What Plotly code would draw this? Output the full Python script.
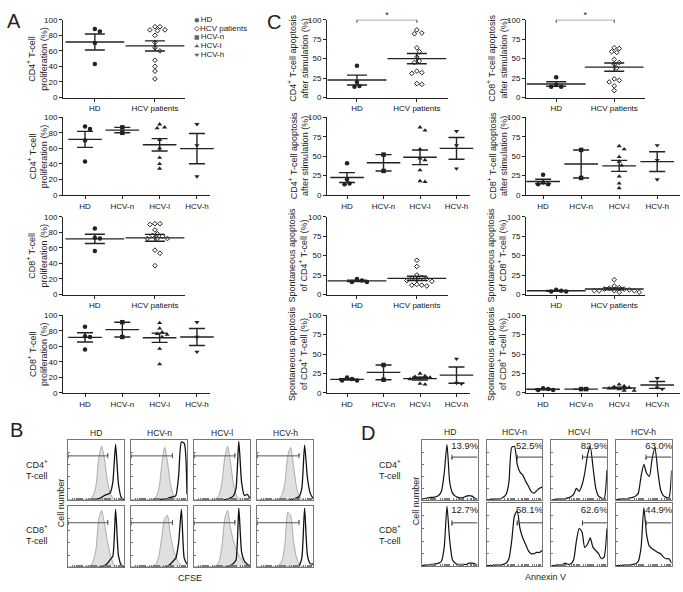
import numpy as np
import plotly.graph_objects as go

W, H = 683, 592
FONT = "Liberation Sans, Arial, sans-serif"
INK = "#222"

# ---------------- dot plots (A, C): values in %, one list per group ----------------
names2 = ["HD", "HCV patients"]
names4 = ["HD", "HCV-n", "HCV-l", "HCV-h"]

cd4_prolif_hd = [85, 88, 70, 43]
cd4_prolif_n = [87, 80]
cd4_prolif_l = [91, 87, 86, 71, 60, 48, 40, 34]
cd4_prolif_h = [91, 64, 24]

cd8_prolif_hd = [85, 73, 72, 56]
cd8_prolif_n = [91, 72]
cd8_prolif_l = [90, 83, 78, 76, 75, 72, 57, 37]
cd8_prolif_h = [91, 72, 53]

cd4_stim_hd = [41, 20, 15, 14]
cd4_stim_n = [52, 31]
cd4_stim_l = [87, 83, 59, 47, 45, 32, 18, 17]
cd4_stim_h = [82, 64, 34]

cd8_stim_hd = [26, 16, 14, 14]
cd8_stim_n = [58, 22]
cd8_stim_l = [63, 59, 49, 43, 38, 24, 15, 9]
cd8_stim_h = [64, 45, 20]

cd4_spont_hd = [20, 18, 16, 16]
cd4_spont_n = [36, 17]
cd4_spont_l = [25, 22, 21, 20, 19, 18, 12, 11]
cd4_spont_h = [44, 13, 12]

cd8_spont_hd = [6, 5, 4, 4]
cd8_spont_n = [5, 5]
cd8_spont_l = [11, 9, 8, 7, 6, 5, 3, 3]
cd8_spont_h = [19, 7, 5]

legend_names = ["HD", "HCV patients", "HCV-n", "HCV-l", "HCV-h"]

# ---------------- flow histograms (B: CFSE, D: Annexin V) ----------------
channel = list(range(0, 101, 5))
flow_cols = ["HD", "HCV-n", "HCV-l", "HCV-h"]

cfse_cd4_fill = [
    [0, 0, 0, 0, 0, 0, 0, 1, 3, 8, 25, 70, 90, 70, 35, 12, 4, 1, 0, 0, 0],
    [0, 0, 0, 0, 0, 0, 0, 0, 2, 6, 20, 60, 88, 65, 30, 10, 3, 1, 0, 0, 0],
    [0, 0, 0, 0, 0, 0, 0, 1, 3, 10, 30, 72, 90, 65, 30, 10, 3, 1, 0, 0, 0],
    [0, 0, 0, 0, 0, 0, 0, 1, 3, 10, 30, 75, 88, 60, 25, 8, 2, 0, 0, 0, 0],
]
cfse_cd4_line = [
    [0, 0, 0, 0, 0, 0, 0, 0, 0, 1, 2, 3, 5, 8, 10, 12, 30, 93, 28, 5, 1],
    [0, 0, 0, 0, 0, 0, 0, 0, 0, 0, 1, 2, 2, 3, 5, 6, 8, 40, 97, 95, 10],
    [0, 0, 0, 0, 0, 0, 0, 0, 0, 0, 0, 1, 2, 4, 7, 20, 98, 30, 8, 10, 3],
    [0, 0, 0, 0, 0, 0, 0, 0, 0, 0, 0, 0, 1, 2, 4, 6, 20, 92, 38, 12, 3],
]
cfse_cd8_fill = [
    [0, 0, 0, 0, 0, 0, 0, 1, 3, 10, 30, 80, 93, 72, 45, 22, 8, 2, 0, 0, 0],
    [0, 0, 0, 0, 0, 0, 0, 0, 2, 6, 20, 50, 80, 85, 55, 32, 18, 8, 3, 1, 0],
    [0, 0, 0, 0, 0, 0, 0, 1, 3, 10, 35, 80, 93, 65, 45, 30, 20, 12, 5, 2, 0],
    [0, 0, 0, 0, 0, 0, 0, 1, 4, 12, 40, 90, 85, 45, 18, 6, 2, 0, 0, 0, 0],
]
cfse_cd8_line = [
    [0, 0, 0, 0, 0, 0, 0, 0, 0, 0, 0, 0, 1, 3, 6, 12, 18, 95, 20, 4, 1],
    [0, 0, 0, 0, 0, 0, 0, 0, 0, 0, 0, 0, 0, 2, 5, 10, 15, 40, 95, 15, 5],
    [0, 0, 0, 0, 0, 0, 0, 0, 0, 0, 0, 0, 1, 3, 6, 12, 97, 25, 10, 5, 2],
    [0, 0, 0, 0, 0, 0, 0, 0, 0, 0, 0, 0, 0, 0, 1, 3, 15, 97, 20, 6, 5],
]
cfse_gate_end = [71, 74, 73, 75]
cfse_gate_y = [74, 73]

anx_cd4 = [
    [2, 3, 4, 5, 5, 6, 8, 15, 45, 93, 30, 12, 7, 5, 4, 5, 7, 8, 7, 4, 2],
    [1, 1, 2, 2, 3, 3, 5, 10, 30, 88, 90, 60, 47, 42, 32, 24, 15, 12, 16, 20, 22],
    [1, 1, 2, 2, 3, 3, 4, 6, 10, 20, 15, 25, 45, 75, 90, 55, 20, 7, 4, 3, 50],
    [1, 2, 2, 3, 3, 4, 5, 7, 12, 40, 60, 45, 40, 70, 88, 50, 18, 8, 5, 4, 50],
]
anx_cd8 = [
    [1, 2, 2, 3, 3, 4, 5, 8, 30, 95, 40, 10, 5, 3, 3, 3, 3, 5, 5, 4, 2],
    [1, 1, 1, 2, 2, 2, 3, 5, 12, 40, 80, 88, 60, 45, 35, 25, 20, 20, 22, 22, 25],
    [1, 1, 2, 2, 3, 5, 3, 4, 10, 40, 60, 55, 30, 35, 45, 30, 25, 20, 12, 15, 60],
    [1, 1, 1, 2, 2, 2, 3, 4, 8, 30, 93, 50, 32, 28, 25, 22, 20, 15, 12, 12, 5],
]
anx_pct_cd4 = ["13.9%", "52.5%", "82.9%", "63.0%"]
anx_pct_cd8 = ["12.7%", "58.1%", "62.6%", "44.9%"]
anx_gate_start = [54, 55, 56, 54]
anx_gate_y = [72, 69]

fig = go.Figure()
n_axes = [0]


def add_axes(x0, x1, ytop, ybot, xa, ya):
    n_axes[0] += 1
    s = "" if n_axes[0] == 1 else str(n_axes[0])
    fig.update_layout({
        "xaxis" + s: dict(domain=[x0 / W, x1 / W], anchor="y" + s, **xa),
        "yaxis" + s: dict(domain=[1 - ybot / H, 1 - ytop / H], anchor="x" + s, **ya),
    })
    return "x" + s, "y" + s


def label(x, y, text, size=9, angle=0, xanchor="center"):
    fig.add_annotation(x=x / W, y=1 - y / H, xref="paper", yref="paper", text=text,
                       showarrow=False, textangle=angle, xanchor=xanchor, yanchor="middle",
                       font=dict(size=size, color=INK))


def swarm(vals, px_y, px_x, d):
    # simple column-scatter layout so that markers do not overlap
    placed, out = [], [0.0] * len(vals)
    cands = [0] + [s * j * 0.5 for j in range(1, 14) for s in (1, -1)]
    for i in sorted(range(len(vals)), key=lambda i: -vals[i]):
        y = vals[i] * px_y
        xo = 0
        for c in cands:
            xo = c * d
            if all((xo - a) ** 2 + (y - b) ** 2 >= d * d * 0.8 for a, b in placed):
                break
        placed.append((xo, y))
        out[i] = xo / px_x
    return out


ROWS = [(16, 95), (115, 194), (216, 295), (316, 395)]
SYM = {"HD": "circle", "HCV patients": "diamond-open", "HCV-n": "square",
       "HCV-l": "triangle-up", "HCV-h": "triangle-down"}


def dot_panel(x0, x1, xr, row, names, groups, yt, title, title_x, bracket=False):
    ytop, ybot = ROWS[row]
    xa = dict(range=xr, tickvals=list(range(len(names))), ticktext=names, showline=True,
              linecolor=INK, linewidth=1, ticks="outside", ticklen=3, tickcolor=INK,
              showgrid=False, zeroline=False, tickfont=dict(size=8, color="#111"))
    ya = dict(range=[0, 100], tickvals=yt, showline=True, linecolor=INK, linewidth=1,
              ticks="outside", ticklen=3, tickcolor=INK, showgrid=False, zeroline=False,
              tickfont=dict(size=8, color="#111"))
    xs, ys = add_axes(x0, x1, ytop, ybot, xa, ya)
    px_y = (ybot - ytop) / 100
    px_x = (x1 - x0) / (xr[1] - xr[0])
    wide = len(names) == 2
    for k, (nm, vals) in enumerate(zip(names, groups)):
        sym = SYM[nm]
        is_open = sym.endswith("open")
        offs = swarm(vals, px_y, px_x, 5)
        fig.add_trace(go.Scatter(
            x=[k + o for o in offs], y=vals, mode="markers", xaxis=xs, yaxis=ys,
            cliponaxis=False, hoverinfo="skip",
            marker=dict(symbol=sym, size=3.6 if is_open else 4.5, color=INK,
                        line=dict(color=INK, width=1 if is_open else 0))))
        m = float(np.mean(vals))
        se = float(np.std(vals, ddof=1) / np.sqrt(len(vals)))
        fig.add_trace(go.Scatter(
            x=[k], y=[m], mode="markers", xaxis=xs, yaxis=ys, cliponaxis=False,
            marker=dict(symbol="line-ew", size=42 if wide else 24,
                        line=dict(color=INK, width=1.4)),
            error_y=dict(type="data", symmetric=False, array=[se], arrayminus=[se],
                         width=10 if wide else 8, thickness=1.4, color=INK)))
    if bracket:
        fig.add_trace(go.Scatter(x=[0, 0, 1, 1], y=[96, 100, 100, 96], mode="lines",
                                 xaxis=xs, yaxis=ys, cliponaxis=False,
                                 line=dict(color="#444", width=1)))
        fig.add_trace(go.Scatter(x=[0.5], y=[100], mode="text", text=["*"],
                                 textposition="top center", xaxis=xs, yaxis=ys,
                                 cliponaxis=False, textfont=dict(size=9, color=INK)))
    label(title_x, (ytop + ybot) / 2, title, size=9, angle=-90)


t20 = [0, 20, 40, 60, 80, 100]
t25 = [0, 25, 50, 75, 100]

# panel A
dot_panel(63, 185, [-0.53, 1.5], 0, names2,
          [cd4_prolif_hd, cd4_prolif_n + cd4_prolif_l + cd4_prolif_h], t20,
          "CD4<sup>+</sup> T-cell<br>proliferation (%)", 37)
dot_panel(63, 210, [-0.59, 3.35], 1, names4,
          [cd4_prolif_hd, cd4_prolif_n, cd4_prolif_l, cd4_prolif_h], t20,
          "CD4<sup>+</sup> T-cell<br>proliferation (%)", 37)
dot_panel(63, 185, [-0.53, 1.5], 2, names2,
          [cd8_prolif_hd, cd8_prolif_n + cd8_prolif_l + cd8_prolif_h], t20,
          "CD8<sup>+</sup> T-cell<br>proliferation (%)", 37)
dot_panel(63, 210, [-0.59, 3.35], 3, names4,
          [cd8_prolif_hd, cd8_prolif_n, cd8_prolif_l, cd8_prolif_h], t20,
          "CD8<sup>+</sup> T-cell<br>proliferation (%)", 37)

# panel C, CD4 column
dot_panel(327, 448, [-0.5, 1.52], 0, names2,
          [cd4_stim_hd, cd4_stim_n + cd4_stim_l + cd4_stim_h], t25,
          "CD4<sup>+</sup> T-cell apoptosis<br>after stimulation (%)", 298, bracket=True)
dot_panel(327, 470, [-0.55, 3.37], 1, names4,
          [cd4_stim_hd, cd4_stim_n, cd4_stim_l, cd4_stim_h], t25,
          "CD4<sup>+</sup> T-cell apoptosis<br>after stimulation (%)", 298)
dot_panel(327, 448, [-0.5, 1.52], 2, names2,
          [cd4_spont_hd, cd4_spont_n + cd4_spont_l + cd4_spont_h], t25,
          "Spontaneous apoptosis<br>of CD4<sup>+</sup> T-cell (%)", 298)
dot_panel(327, 470, [-0.55, 3.37], 3, names4,
          [cd4_spont_hd, cd4_spont_n, cd4_spont_l, cd4_spont_h], t25,
          "Spontaneous apoptosis<br>of CD4<sup>+</sup> T-cell (%)", 298)

# panel C, CD8 column
dot_panel(526, 645, [-0.52, 1.53], 0, names2,
          [cd8_stim_hd, cd8_stim_n + cd8_stim_l + cd8_stim_h], t25,
          "CD8<sup>+</sup> T-cell apoptosis<br>after stimulation (%)", 497, bracket=True)
dot_panel(526, 680, [-0.45, 3.6], 1, names4,
          [cd8_stim_hd, cd8_stim_n, cd8_stim_l, cd8_stim_h], t25,
          "CD8<sup>+</sup> T-cell apoptosis<br>after stimulation (%)", 497)
dot_panel(526, 645, [-0.52, 1.53], 2, names2,
          [cd8_spont_hd, cd8_spont_n + cd8_spont_l + cd8_spont_h], t25,
          "Spontaneous apoptosis<br>of CD8<sup>+</sup> T-cell (%)", 497)
dot_panel(526, 680, [-0.45, 3.6], 3, names4,
          [cd8_spont_hd, cd8_spont_n, cd8_spont_l, cd8_spont_h], t25,
          "Spontaneous apoptosis<br>of CD8<sup>+</sup> T-cell (%)", 497)

# legend of panel A (tight spacing, drawn on its own hidden axes)
lx, ly = add_axes(193, 270, 12, 56, dict(range=[-0.5, 9.5], visible=False),
                  dict(range=[4.5, -0.5], visible=False))
fig.add_trace(go.Scatter(
    x=[0] * len(legend_names), y=list(range(len(legend_names))), mode="markers+text",
    text=legend_names, textposition="middle right", xaxis=lx, yaxis=ly, cliponaxis=False,
    textfont=dict(size=8, color=INK),
    marker=dict(symbol=[SYM[n] for n in legend_names], size=[4.5, 3.6, 4.5, 4.5, 4.5],
                color=INK, line=dict(color=INK, width=[0, 1, 0, 0, 0]))))

# ---------------- histogram panels ----------------
dec = [0, 25, 50, 75]
minor = sorted({d + 25 * np.log10(k) for d in dec for k in range(1, 10)})
hx = dict(range=[0, 100], showline=True, mirror=True, linecolor="#777", linewidth=1,
          ticks="inside", ticklen=2, tickcolor="#777", tickvals=minor,
          showticklabels=False, showgrid=False, zeroline=False)
hy = dict(range=[0, 100], showline=True, mirror=True, linecolor="#777", linewidth=1,
          ticks="inside", ticklen=2, tickcolor="#777", tickvals=[20, 40, 60, 80],
          showticklabels=False, showgrid=False, zeroline=False)

B_X0, B_W, B_STEP = 68, 56, 63
B_ROWS = [(443, 504), (510, 572)]
for r, (fills, lines) in enumerate([(cfse_cd4_fill, cfse_cd4_line), (cfse_cd8_fill, cfse_cd8_line)]):
    for c in range(4):
        x0 = B_X0 + c * B_STEP
        xs, ys = add_axes(x0, x0 + B_W, B_ROWS[r][0], B_ROWS[r][1], hx, hy)
        fig.add_trace(go.Scatter(x=channel, y=fills[c], mode="lines", fill="tozeroy",
                                 fillcolor="#e0e0e0", xaxis=xs, yaxis=ys,
                                 line=dict(color="#999", width=0.8, shape="spline", smoothing=0.6)))
        fig.add_trace(go.Scatter(x=channel, y=lines[c], mode="lines", xaxis=xs, yaxis=ys,
                                 line=dict(color="#111", width=1.3, shape="spline", smoothing=0.6)))
        e, gy = cfse_gate_end[c], cfse_gate_y[r]
        fig.add_trace(go.Scatter(x=[0, 0, 0, e, e, e], y=[gy + 4, gy - 4, gy, gy, gy + 4, gy - 4],
                                 mode="lines", xaxis=xs, yaxis=ys, cliponaxis=False,
                                 line=dict(color="#555", width=1)))
        if r == 0:
            label(x0 + B_W / 2, 436, flow_cols[c], size=8.5)

D_X0, D_W, D_STEP = 422, 55.5, 64.7
D_ROWS = [(443, 504), (507, 571)]
for r, (curves, pcts) in enumerate([(anx_cd4, anx_pct_cd4), (anx_cd8, anx_pct_cd8)]):
    for c in range(4):
        x0 = D_X0 + c * D_STEP
        xs, ys = add_axes(x0, x0 + D_W, D_ROWS[r][0], D_ROWS[r][1], hx, hy)
        fig.add_trace(go.Scatter(x=channel, y=curves[c], mode="lines", xaxis=xs, yaxis=ys,
                                 line=dict(color="#111", width=1.2, shape="spline", smoothing=0.6)))
        s, gy = anx_gate_start[c], anx_gate_y[r]
        fig.add_trace(go.Scatter(x=[s, s, s, 100], y=[gy + 4, gy - 4, gy, gy], mode="lines",
                                 xaxis=xs, yaxis=ys, cliponaxis=False,
                                 line=dict(color="#444", width=1)))
        fig.add_trace(go.Scatter(x=[77], y=[89], mode="text", text=[pcts[c]], xaxis=xs, yaxis=ys,
                                 cliponaxis=False, textfont=dict(size=9.5, color=INK)))
        if r == 0:
            label(x0 + D_W / 2, 435, flow_cols[c], size=8.5)

# ---------------- free text ----------------
for t, x, y in [("A", 14, 17), ("B", 16, 433), ("C", 274, 18), ("D", 368, 436)]:
    label(x, y, t, size=20)
label(37, 473, "CD4<sup>+</sup><br>T-cell", size=9)
label(37, 539, "CD8<sup>+</sup><br>T-cell", size=9)
label(390, 473, "CD4<sup>+</sup><br>T-cell", size=9)
label(390, 539, "CD8<sup>+</sup><br>T-cell", size=9)
label(61, 507, "Cell number", size=9, angle=-90)
label(416, 505, "Cell number", size=9, angle=-90)
label(190, 583, "CFSE", size=9)
label(545, 582, "Annexin V", size=9)

fig.update_layout(width=W, height=H, margin=dict(l=0, r=0, t=0, b=0),
                  paper_bgcolor="white", plot_bgcolor="white", showlegend=False,
                  hovermode=False, font=dict(family=FONT, color=INK))
# the page body has a default 8px margin; drop it so the figure fills the window
fig.write_html("out.html", config={"displayModeBar": False},
               post_script="document.body.style.margin='0px';")
